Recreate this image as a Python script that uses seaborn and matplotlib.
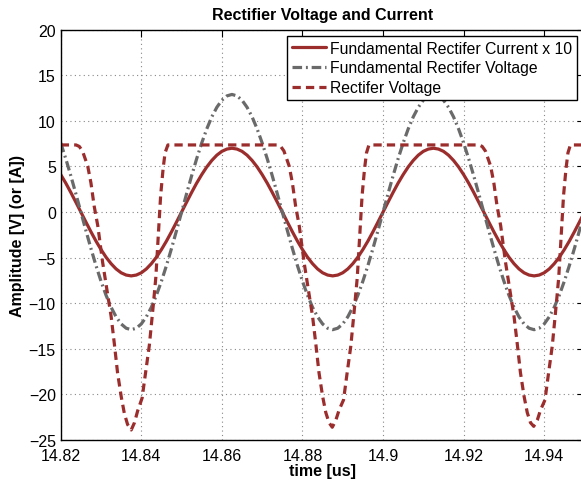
import numpy as np
import pandas as pd
import matplotlib
matplotlib.use("Agg")
import matplotlib.pyplot as plt
import seaborn as sns

# ---------------- data ----------------
# common sample grid for the fundamental waveforms [us]
time_fund = np.linspace(14.82, 14.95, 105)

current_x10 = [
    4.11, 3.18, 2.16, 1.09, 0.00, -1.09, -2.16, -3.18, -4.11, -4.95,
    -5.66, -6.24, -6.66, -6.91, -7.00, -6.91, -6.66, -6.24, -5.66, -4.95,
    -4.11, -3.18, -2.16, -1.09, 0.00, 1.09, 2.16, 3.18, 4.11, 4.95,
    5.66, 6.24, 6.66, 6.91, 7.00, 6.91, 6.66, 6.24, 5.66, 4.95,
    4.11, 3.18, 2.16, 1.09, 0.00, -1.09, -2.16, -3.18, -4.11, -4.95,
    -5.66, -6.24, -6.66, -6.91, -7.00, -6.91, -6.66, -6.24, -5.66, -4.95,
    -4.11, -3.18, -2.16, -1.09, 0.00, 1.09, 2.16, 3.18, 4.11, 4.95,
    5.66, 6.24, 6.66, 6.91, 7.00, 6.91, 6.66, 6.24, 5.66, 4.95,
    4.11, 3.18, 2.16, 1.09, 0.00, -1.09, -2.16, -3.18, -4.11, -4.95,
    -5.66, -6.24, -6.66, -6.91, -7.00, -6.91, -6.66, -6.24, -5.66, -4.95,
    -4.11, -3.18, -2.16, -1.09, 0.00,
]

fund_voltage = [
    7.58, 5.86, 3.99, 2.02, 0.00, -2.02, -3.99, -5.86, -7.58, -9.12,
    -10.44, -11.49, -12.27, -12.74, -12.90, -12.74, -12.27, -11.49, -10.44, -9.12,
    -7.58, -5.86, -3.99, -2.02, 0.00, 2.02, 3.99, 5.86, 7.58, 9.12,
    10.44, 11.49, 12.27, 12.74, 12.90, 12.74, 12.27, 11.49, 10.44, 9.12,
    7.58, 5.86, 3.99, 2.02, 0.00, -2.02, -3.99, -5.86, -7.58, -9.12,
    -10.44, -11.49, -12.27, -12.74, -12.90, -12.74, -12.27, -11.49, -10.44, -9.12,
    -7.58, -5.86, -3.99, -2.02, 0.00, 2.02, 3.99, 5.86, 7.58, 9.12,
    10.44, 11.49, 12.27, 12.74, 12.90, 12.74, 12.27, 11.49, 10.44, 9.12,
    7.58, 5.86, 3.99, 2.02, 0.00, -2.02, -3.99, -5.86, -7.58, -9.12,
    -10.44, -11.49, -12.27, -12.74, -12.90, -12.74, -12.27, -11.49, -10.44, -9.12,
    -7.58, -5.86, -3.99, -2.02, 0.00,
]

time_rect = [
    14.8200, 14.8238, 14.8246, 14.8254, 14.8267, 14.8275, 14.8283, 14.8292,
    14.8304, 14.8316, 14.8325, 14.8333, 14.8341, 14.8350, 14.8358, 14.8366,
    14.8375, 14.8383, 14.8391, 14.8402, 14.8411, 14.8420, 14.8430, 14.8436,
    14.8444, 14.8448, 14.8454, 14.8459, 14.8466,
    14.8738, 14.8746, 14.8754, 14.8767, 14.8775, 14.8783, 14.8792,
    14.8804, 14.8816, 14.8825, 14.8833, 14.8841, 14.8850, 14.8858, 14.8866,
    14.8874, 14.8883, 14.8891, 14.8902, 14.8911, 14.8920, 14.8930, 14.8936,
    14.8944, 14.8948, 14.8954, 14.8959, 14.8965,
    14.9238, 14.9246, 14.9254, 14.9267, 14.9275, 14.9283, 14.9292,
    14.9304, 14.9316, 14.9325, 14.9333, 14.9341, 14.9350, 14.9358, 14.9366,
    14.9374, 14.9383, 14.9391, 14.9402, 14.9411, 14.9420, 14.9430, 14.9436,
    14.9444, 14.9448, 14.9454, 14.9459, 14.9465, 14.9500,
]

rect_voltage = [
    7.36, 7.36, 7.20, 6.70, 5.05, 3.20, 0.66, -1.50,
    -5.50, -8.90, -11.40, -14.40, -17.60, -20.20, -22.10, -23.30,
    -23.90, -23.10, -21.80, -20.40, -17.50, -14.60, -10.10, -7.20,
    -1.20, 1.80, 4.70, 6.50, 7.36,
    7.36, 7.20, 6.70, 5.05, 3.20, 0.66, -1.50,
    -5.50, -8.90, -11.40, -14.40, -17.60, -20.20, -22.00, -23.10,
    -23.60, -22.80, -21.70, -20.60, -17.60, -14.70, -10.10, -7.20,
    -1.20, 1.80, 4.70, 6.50, 7.36,
    7.36, 7.20, 6.70, 5.05, 3.20, 0.66, -1.50,
    -5.50, -8.90, -11.40, -14.40, -17.60, -20.20, -22.00, -23.10,
    -23.50, -22.80, -21.70, -20.60, -17.60, -14.70, -10.10, -7.20,
    -1.20, 1.80, 4.70, 6.50, 7.36, 7.36,
]

labels = [
    "Fundamental Rectifer Current x 10",
    "Fundamental Rectifer Voltage",
    "Rectifer Voltage",
]
x_ticks = [14.82, 14.84, 14.86, 14.88, 14.90, 14.92, 14.94]
x_tick_labels = ["14.82", "14.84", "14.86", "14.88", "14.9", "14.92", "14.94"]
y_ticks = [-25, -20, -15, -10, -5, 0, 5, 10, 15, 20]

# ---------------- styling ----------------
sns.set_style("white")
plt.rcParams["font.family"] = ["Liberation Sans", "DejaVu Sans"]
plt.rcParams["axes.unicode_minus"] = True
plt.rcParams["text.color"] = "black"
plt.rcParams["axes.labelcolor"] = "black"

RED = "#9b2d2d"
GREY = "#6a6a6a"

fig = plt.figure(figsize=(5.81, 4.85), dpi=100)
ax = fig.add_axes([0.1045, 0.0907, 0.9015, 0.8460])

df_i = pd.DataFrame({"t": time_fund, "v": current_x10})
df_f = pd.DataFrame({"t": time_fund, "v": fund_voltage})
df_r = pd.DataFrame({"t": time_rect, "v": rect_voltage})

sns.lineplot(data=df_i, x="t", y="v", ax=ax, color=RED, linewidth=2.3,
             estimator=None, label=labels[0])
sns.lineplot(data=df_f, x="t", y="v", ax=ax, color=GREY, linewidth=2.3,
             estimator=None, label=labels[1])
sns.lineplot(data=df_r, x="t", y="v", ax=ax, color=RED, linewidth=2.3,
             estimator=None, label=labels[2])

lines = ax.get_lines()
lines[1].set_dashes([3.0, 1.2, 0.6, 1.2])
lines[2].set_dashes([2.6, 1.6])

ax.set_xlim(14.82, 14.95)
ax.set_ylim(-25, 20)
ax.set_xticks(x_ticks)
ax.set_xticklabels(x_tick_labels)
ax.set_yticks(y_ticks)
ax.set_yticklabels([str(v).replace("-", "\u2212") for v in y_ticks])

ax.grid(True, linestyle=(0, (1, 3)), color="#888888", linewidth=0.8)
ax.tick_params(direction="in", length=5, width=0.8, labelsize=11.5,
               top=True, right=True, colors="black")
ax.tick_params(axis="x", pad=6)
ax.tick_params(axis="y", pad=3.5)
for s in ax.spines.values():
    s.set_color("black")
    s.set_linewidth(1.0)

ax.set_title("Rectifier Voltage and Current", fontsize=11.5, fontweight="bold",
             pad=8, color="black")
ax.set_xlabel("time [us]", fontsize=11.5, fontweight="bold", labelpad=0,
              color="black")
ax.set_ylabel("Amplitude [V] (or [A])", fontsize=11.5, fontweight="bold",
              labelpad=3, color="black")

leg = ax.legend(loc="upper right", bbox_to_anchor=(577 / 581, 448 / 485),
                bbox_transform=fig.transFigure, borderaxespad=0,
                fontsize=11.3, frameon=True, fancybox=False, framealpha=1,
                edgecolor="black", handlelength=2.2, handletextpad=0.25,
                labelspacing=0.3, borderpad=0.3)
leg.get_frame().set_linewidth(1.0)
for t in leg.get_texts():
    t.set_color("black")
for h in leg.get_lines():
    h.set_linewidth(2.3)

fig.savefig("out.png", dpi=100)
